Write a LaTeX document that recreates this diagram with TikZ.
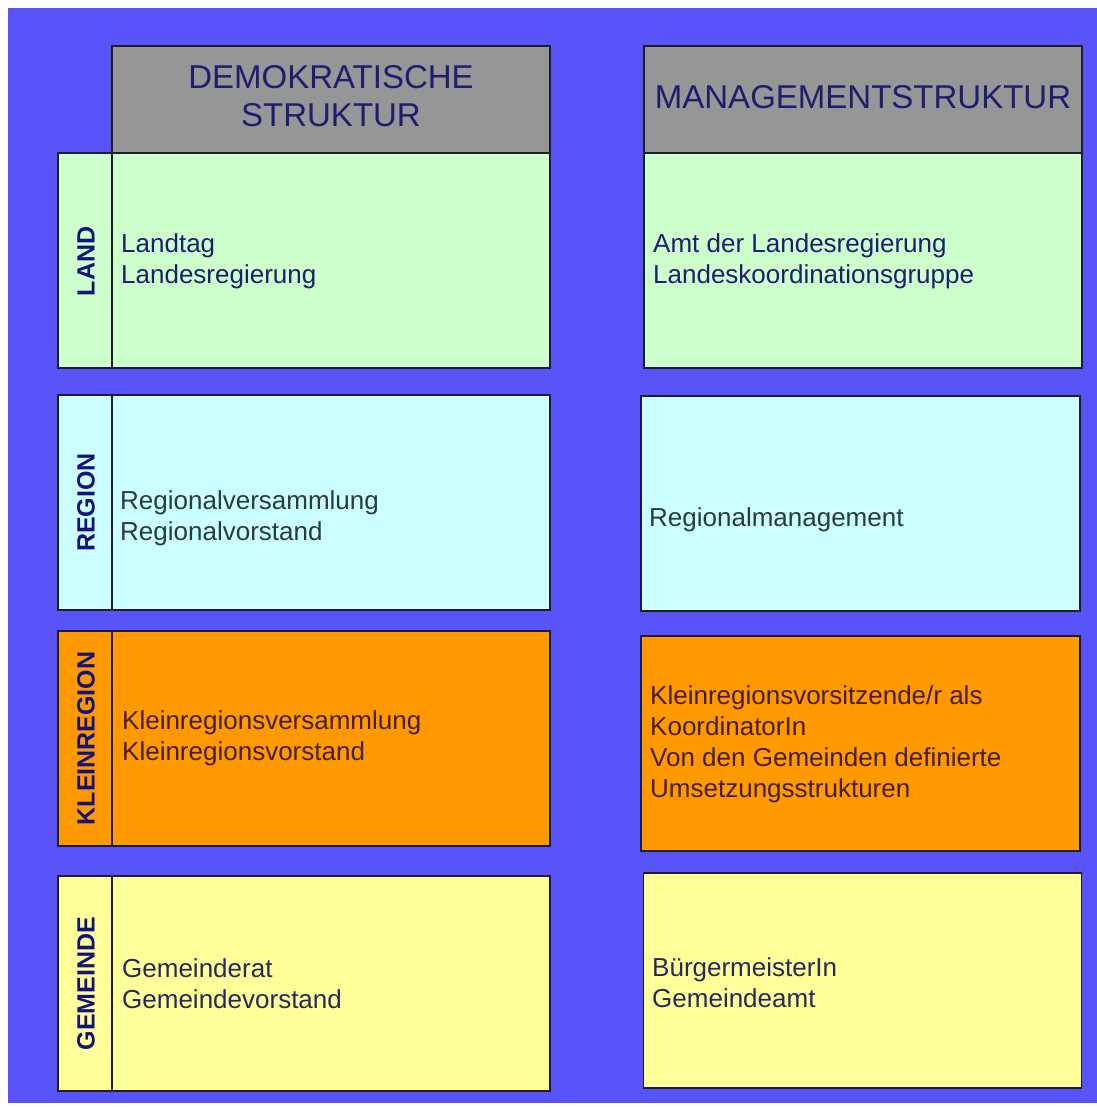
\documentclass[tikz,border=0pt]{standalone}
\usepackage{fontspec}
\setmainfont{Liberation Sans}
\definecolor{bgblue}{RGB}{88,84,250}
\definecolor{hdrgray}{RGB}{150,150,150}
\definecolor{cgreen}{RGB}{204,255,204}
\definecolor{ccyan}{RGB}{204,255,255}
\definecolor{corange}{RGB}{255,153,0}
\definecolor{cyellow}{RGB}{255,255,153}
\definecolor{boxline}{RGB}{30,30,40}
\definecolor{navytext}{RGB}{30,30,110}
\definecolor{labeltext}{RGB}{20,20,120}
\definecolor{regtext}{RGB}{40,60,60}
\definecolor{kleintext}{RGB}{70,30,10}
\definecolor{gemtext}{RGB}{40,40,90}
\begin{document}
\begin{tikzpicture}[x=1bp,y=-1bp,
  cell/.style={draw=boxline, line width=1.8bp, inner sep=0pt, outer sep=0pt,
    minimum width=438bp, minimum height=215bp},
  strip/.style={cell, minimum width=54bp},
  hdr/.style={cell, fill=hdrgray, minimum height=107bp},
  hdrtext/.style={inner sep=0pt, align=center, text=navytext,
    font=\fontsize{33bp}{38bp}\selectfont},
  bodytext/.style={inner sep=0pt, anchor=west, align=left,
    font=\fontsize{26bp}{31bp}\selectfont},
  lbl/.style={inner sep=0pt, rotate=90, text=labeltext,
    font=\fontsize{25bp}{30bp}\selectfont\bfseries}]
\useasboundingbox (0,0) rectangle (1097,1107);
\fill[white] (0,0) rectangle (1097,1107);
\fill[bgblue] (8,8) rectangle (1097,1103);

% headers
\node[hdr] (hdrL) at (331,99.5) {};
\node[hdr] (hdrR) at (863,99.5) {};
\node[hdrtext] (hdrLt) at (331,96) {DEMOKRATISCHE\\STRUKTUR};
\node[hdrtext] (hdrRt) at (863,97) {MANAGEMENTSTRUKTUR};

% LAND
\node[strip, fill=cgreen] (landS) at (85,260.5) {};
\node[cell, fill=cgreen] (landL) at (331,260.5) {};
\node[cell, fill=cgreen] (landR) at (863,260.5) {};
\node[lbl] (landlab) at (86,261.5) {LAND};
\node[bodytext, text=navytext] (landLt) at (121,261) {Landtag\\Landesregierung};
\node[bodytext, text=navytext] (landRt) at (653,261) {Amt der Landesregierung\\Landeskoordinationsgruppe};

% REGION
\node[strip, fill=ccyan] (regS) at (85,502.5) {};
\node[cell, fill=ccyan] (regL) at (331,502.5) {};
\node[cell, fill=ccyan, minimum width=439bp] (regR) at (860.5,503.5) {};
\node[lbl] (reglab) at (86,502.5) {REGION};
\node[bodytext, text=regtext] (regLt) at (120,518) {Regionalversammlung\\Regionalvorstand};
\node[bodytext, text=regtext] (regRt) at (649,520) {Regionalmanagement};

% KLEINREGION
\node[strip, fill=corange] (kleinS) at (85,738.5) {};
\node[cell, fill=corange] (kleinL) at (331,738.5) {};
\node[cell, fill=corange, minimum width=439bp] (kleinR) at (860.5,743.5) {};
\node[lbl] (kleinlab) at (86,738.5) {KLEINREGION};
\node[bodytext, text=kleintext] (kleinLt) at (122,738.5) {Kleinregionsversammlung\\Kleinregionsvorstand};
\node[bodytext, text=kleintext] (kleinRt) at (650,744) {Kleinregionsvorsitzende/r als\\KoordinatorIn\\Von den Gemeinden definierte\\Umsetzungsstrukturen};

% GEMEINDE
\node[strip, fill=cyellow] (gemS) at (85,983.5) {};
\node[cell, fill=cyellow] (gemL) at (331,983.5) {};
\node[cell, fill=cyellow] (gemR) at (862.5,980.5) {};
\node[lbl] (gemlab) at (86,983.5) {GEMEINDE};
\node[bodytext, text=gemtext] (gemLt) at (122,984) {Gemeinderat\\Gemeindevorstand};
\node[bodytext, text=gemtext] (gemRt) at (652,983) {BürgermeisterIn\\Gemeindeamt};
\end{tikzpicture}
\end{document}
